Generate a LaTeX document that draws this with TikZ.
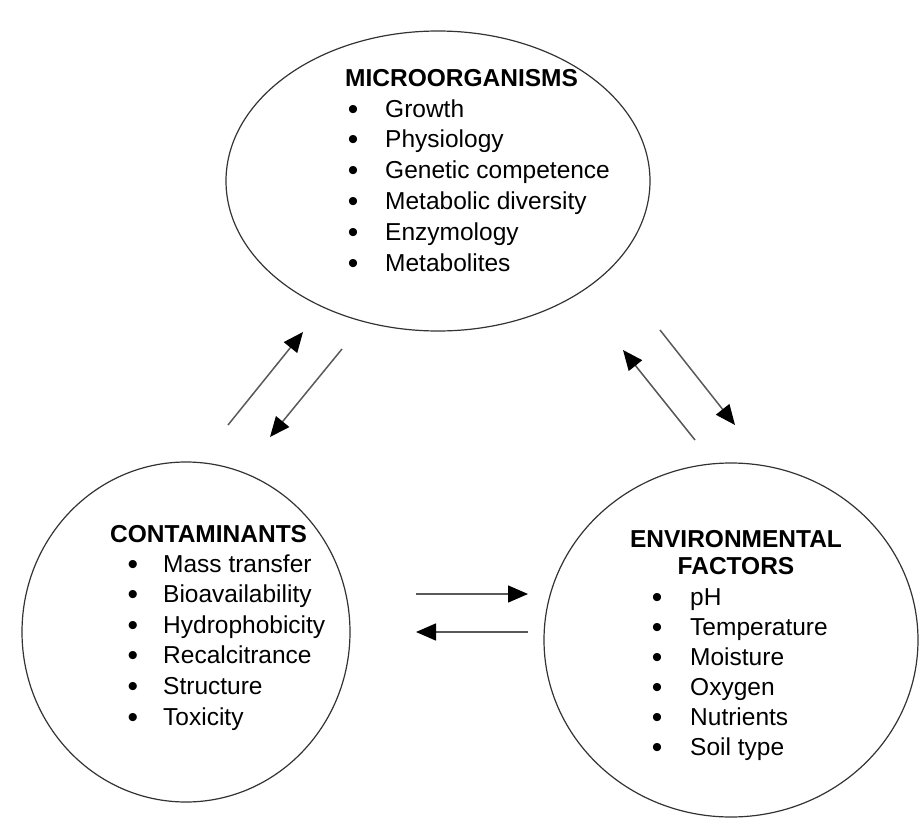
\documentclass[tikz,border=0pt]{standalone}
\usepackage{fontspec}
\setmainfont{Liberation Sans}
\usetikzlibrary{shapes.geometric,arrows.meta}
\begin{document}
\begin{tikzpicture}[x=1pt,y=-1pt,
  blob/.style={draw=black!80,line width=1.2pt,ellipse,inner sep=0pt},
  ttl/.style={font=\fontsize{24.5}{28}\selectfont\bfseries,inner sep=0pt,anchor=base west},
  itm/.style={font=\fontsize{24.5}{28}\selectfont,inner sep=0pt,anchor=base west},
  bul/.style={font=\fontsize{30}{32}\selectfont,inner sep=0pt,anchor=base},
  conn/.style={draw=black!65,line width=1.5pt,-{Triangle[length=20pt,width=17pt,color=black,fill=black]}}]
\useasboundingbox (0,0) rectangle (919,819);
% ellipses
\node[blob,minimum width=424pt,minimum height=300pt] (micro) at (438,181) {};
\node[blob,minimum width=328pt,minimum height=340pt] (cont) at (186,632) {};
\node[blob,minimum width=374pt,minimum height=354pt] (env) at (731,640) {};
% microorganisms
\node[ttl] (mt) at (345,86) {MICROORGANISMS};
\foreach \t [count=\i from 0] in {Growth,Physiology,Genetic competence,Metabolic diversity,Enzymology,Metabolites}{
  \node[bul] (mb\i) at (353,119+30.8*\i) {•};
  \node[itm] (mi\i) at (385,117+30.8*\i) {\t};
}
% contaminants
\node[ttl] (ct) at (110,542) {CONTAMINANTS};
\foreach \t [count=\i from 0] in {Mass transfer,Bioavailability,Hydrophobicity,Recalcitrance,Structure,Toxicity}{
  \node[bul] (cb\i) at (133,574+30.6*\i) {•};
  \node[itm] (ci\i) at (163,572+30.6*\i) {\t};
}
% environmental factors
\node[ttl,anchor=base] (et1) at (736,547) {ENVIRONMENTAL};
\node[ttl,anchor=base] (et2) at (736,574) {FACTORS};
\foreach \t [count=\i from 0] in {pH,Temperature,Moisture,Oxygen,Nutrients,Soil type}{
  \node[bul] (eb\i) at (657,607+30*\i) {•};
  \node[itm] (ei\i) at (690,605+30*\i) {\t};
}
% arrow end points
\coordinate (a1s) at (228,425); \coordinate (a1e) at (303,332);
\coordinate (a2s) at (342,349); \coordinate (a2e) at (270,437);
\coordinate (a3s) at (695,440); \coordinate (a3e) at (623,350);
\coordinate (a4s) at (660,330); \coordinate (a4e) at (735,425);
\coordinate (a5s) at (416,594); \coordinate (a5e) at (528,594);
\coordinate (a6s) at (528,632); \coordinate (a6e) at (416,632);
\draw[conn] (a1s) -- (a1e);
\draw[conn] (a2s) -- (a2e);
\draw[conn] (a3s) -- (a3e);
\draw[conn] (a4s) -- (a4e);
\draw[conn] (a5s) -- (a5e);
\draw[conn] (a6s) -- (a6e);
\end{tikzpicture}
\end{document}
